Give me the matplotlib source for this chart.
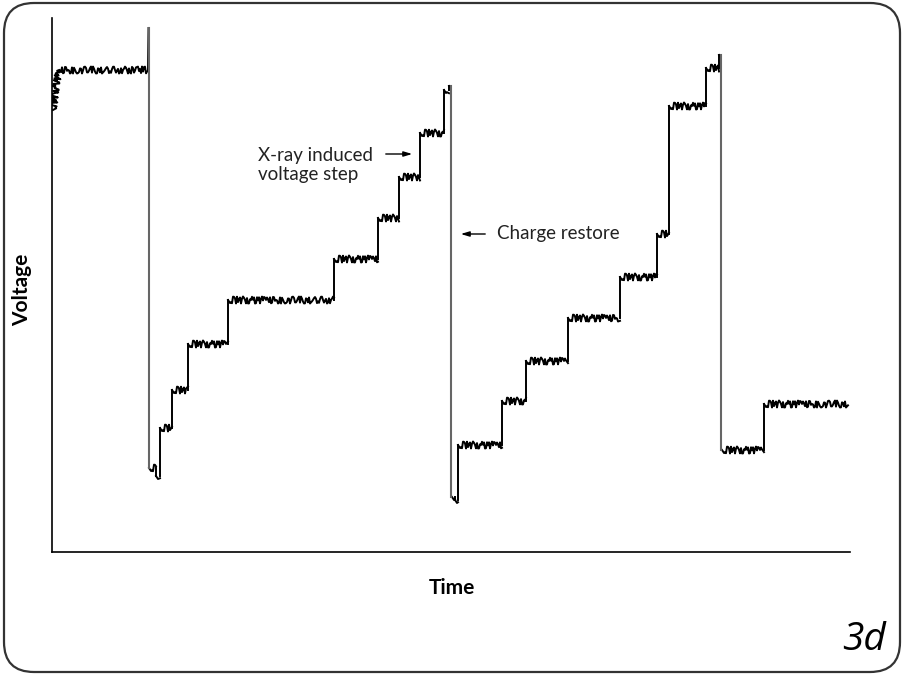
import numpy as np
import matplotlib
matplotlib.use("Agg")
import matplotlib.pyplot as plt
from matplotlib.patches import FancyBboxPatch
from matplotlib.transforms import IdentityTransform

plt.rcParams['font.family'] = ['Lato', 'DejaVu Sans']

# trace (time and voltage in arbitrary units)
# first charge period
time_a = [1, 4, 8, 96, 96.5]
volt_a = [442, 470, 482, 482, 524]
# second ramp: step edges and levels (steps-post)
time_b = [97, 104, 108, 120, 136, 176, 282, 326, 347, 368, 392, 397, 398]
volt_b = [84, 76, 124, 162, 208, 252, 293, 334, 375, 419, 462, 466, 464]
# third ramp
time_c = [400, 403, 406, 450, 474, 516, 568, 605, 617, 654, 667, 668]
volt_c = [55, 52, 107, 151, 191, 234, 275, 318, 446, 484, 497, 497]
# last part after restore
time_d = [670, 712, 796]
volt_d = [102, 148, 148]
# charge restore drops: time, voltage from, voltage to
drop_t = [97, 399, 669]
drop_from = [524, 466, 497]
drop_to = [84, 55, 102]

fig = plt.figure(figsize=(9.04, 6.75), dpi=100)
ax = fig.add_axes([52 / 904, 123 / 675, 798 / 904, 534 / 675])

noisy = []
ln, = ax.plot(time_a[:4], volt_a[:4], color='black', lw=1.4)
noisy.append(ln)
ax.plot(time_a[3:], volt_a[3:], color='black', lw=1.4)

for tt, vv in [(time_b, volt_b), (time_c, volt_c), (time_d, volt_d)]:
    # flat parts carry the noise, the jumps stay clean
    for i in range(len(tt) - 1):
        ln, = ax.plot([tt[i], tt[i + 1]], [vv[i], vv[i]], color='black', lw=1.4)
        noisy.append(ln)
        if i + 1 < len(tt) - 1:
            ax.plot([tt[i + 1], tt[i + 1]], [vv[i], vv[i + 1]], color='black', lw=1.4)
for ln in noisy:
    ln.set_sketch_params(scale=3.5, length=3, randomness=5)

for t, v0, v1 in zip(drop_t, drop_from, drop_to):
    ax.plot([t, t], [v0, v1], color='#666666', lw=1.5)

ax.set_xlim(0, 798)
ax.set_ylim(0, 534)
ax.set_xticks([])
ax.set_yticks([])
ax.spines['top'].set_visible(False)
ax.spines['right'].set_visible(False)
ax.spines['left'].set_linewidth(1.2)
ax.spines['bottom'].set_linewidth(1.2)

# annotations
ax.text(206, 387, 'X-ray induced\nvoltage step', fontsize=13.5, color='#222222',
        va='center', ha='left', linespacing=1.1)
ax.annotate('', xy=(363, 398), xytext=(331, 398),
            arrowprops=dict(arrowstyle='-|>,head_length=0.5,head_width=0.15', color='black', lw=1))
ax.text(445, 318, 'Charge restore', fontsize=13.5, color='#222222', va='center', ha='left')
ax.annotate('', xy=(406, 318), xytext=(436, 318),
            arrowprops=dict(arrowstyle='-|>,head_length=0.5,head_width=0.15', color='black', lw=1))

fig.text(22 / 904, 1 - 290 / 675, 'Voltage', rotation=90, fontsize=15, fontweight='bold',
         ha='center', va='center')
fig.text(452 / 904, 1 - 588 / 675, 'Time', fontsize=15, fontweight='bold',
         ha='center', va='center')
fig.text(886 / 904, 1 - 640 / 675, '3d', fontsize=28, fontstyle='italic',
         family=['Open Sans', 'DejaVu Sans'], ha='right', va='center', color='black')

# rounded frame around the whole figure
frame = FancyBboxPatch((4, 3), 896, 669, boxstyle='round,pad=0,rounding_size=30',
                       transform=IdentityTransform(), facecolor='none',
                       edgecolor='#333333', lw=1.6)
fig.patches.append(frame)

fig.savefig('out.png', dpi=100)
